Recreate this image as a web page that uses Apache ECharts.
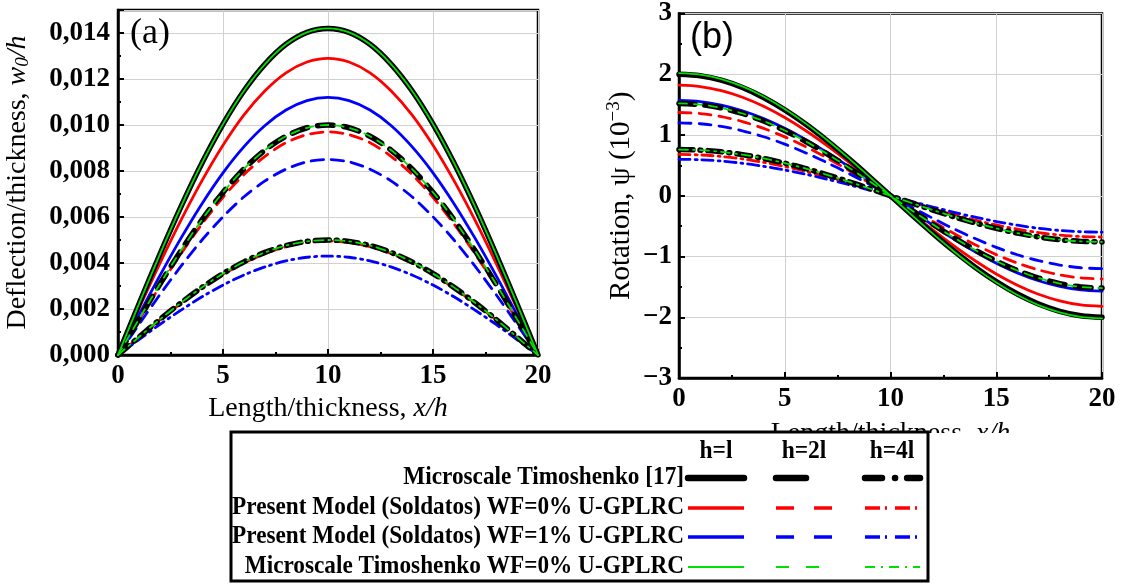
<!DOCTYPE html>
<html>
<head>
<meta charset="utf-8">
<script src="https://cdn.jsdelivr.net/npm/echarts@6/dist/echarts.min.js"></script>
<style>
html,body{margin:0;padding:0;background:#fff;}
#chart{width:1127px;height:584px;}
</style>
</head>
<body>
<div id="chart"></div>
<script>
// ---- data ----
var xs = [0,1,2,3,4,5,6,7,8,9,10,11,12,13,14,15,16,17,18,19,20];

// Panel (a): deflection/thickness w0/h
var deflMicroH1 = [0,0.00222,0.00439,0.00645,0.00835,0.01004,0.01149,0.01265,0.01351,0.01403,0.0142,0.01403,0.01351,0.01265,0.01149,0.01004,0.00835,0.00645,0.00439,0.00222,0];
var deflMicroH2 = [0,0.00156,0.00309,0.00454,0.00588,0.00707,0.00809,0.00891,0.00951,0.00988,0.0100,0.00988,0.00951,0.00891,0.00809,0.00707,0.00588,0.00454,0.00309,0.00156,0];
var deflMicroH4 = [0,0.00078,0.00155,0.00227,0.00294,0.00354,0.00405,0.00446,0.00476,0.00494,0.0050,0.00494,0.00476,0.00446,0.00405,0.00354,0.00294,0.00227,0.00155,0.00078,0];
var deflWF0H1 = [0,0.00202,0.00399,0.00586,0.00758,0.00912,0.01044,0.01149,0.01227,0.01274,0.0129,0.01274,0.01227,0.01149,0.01044,0.00912,0.00758,0.00586,0.00399,0.00202,0];
var deflWF0H2 = [0,0.00152,0.00300,0.00440,0.00570,0.00686,0.00785,0.00864,0.00923,0.00958,0.0097,0.00958,0.00923,0.00864,0.00785,0.00686,0.00570,0.00440,0.00300,0.00152,0];
var deflWF0H4 = [0,0.00077,0.00153,0.00225,0.00291,0.00350,0.00400,0.00441,0.00471,0.00489,0.00495,0.00489,0.00471,0.00441,0.00400,0.00350,0.00291,0.00225,0.00153,0.00077,0];
var deflWF1H1 = [0,0.00175,0.00346,0.00508,0.00658,0.00792,0.00906,0.00998,0.01065,0.01106,0.0112,0.01106,0.01065,0.00998,0.00906,0.00792,0.00658,0.00508,0.00346,0.00175,0];
var deflWF1H2 = [0,0.00133,0.00263,0.00386,0.00500,0.00601,0.00688,0.00757,0.00808,0.00840,0.0085,0.00840,0.00808,0.00757,0.00688,0.00601,0.00500,0.00386,0.00263,0.00133,0];
var deflWF1H4 = [0,0.00067,0.00133,0.00195,0.00253,0.00304,0.00348,0.00383,0.00409,0.00425,0.0043,0.00425,0.00409,0.00383,0.00348,0.00304,0.00253,0.00195,0.00133,0.00067,0];
var deflGreenH1 = [0,0.00222,0.00439,0.00645,0.00835,0.01004,0.01149,0.01265,0.01351,0.01403,0.0142,0.01403,0.01351,0.01265,0.01149,0.01004,0.00835,0.00645,0.00439,0.00222,0];
var deflGreenH2 = [0,0.00156,0.00309,0.00454,0.00588,0.00707,0.00809,0.00891,0.00951,0.00988,0.0100,0.00988,0.00951,0.00891,0.00809,0.00707,0.00588,0.00454,0.00309,0.00156,0];
var deflGreenH4 = [0,0.00078,0.00155,0.00227,0.00294,0.00354,0.00405,0.00446,0.00476,0.00494,0.0050,0.00494,0.00476,0.00446,0.00405,0.00354,0.00294,0.00227,0.00155,0.00078,0];

// Panel (b): rotation psi (1e-3)
var rotMicroH1 = [2.0,1.975,1.902,1.782,1.618,1.414,1.176,0.908,0.618,0.313,0,-0.313,-0.618,-0.908,-1.176,-1.414,-1.618,-1.782,-1.902,-1.975,-2.0];
var rotMicroH2 = [1.52,1.501,1.446,1.354,1.230,1.075,0.893,0.690,0.470,0.238,0,-0.238,-0.470,-0.690,-0.893,-1.075,-1.230,-1.354,-1.446,-1.501,-1.52];
var rotMicroH4 = [0.76,0.751,0.723,0.677,0.615,0.537,0.447,0.345,0.235,0.119,0,-0.119,-0.235,-0.345,-0.447,-0.537,-0.615,-0.677,-0.723,-0.751,-0.76];
var rotWF0H1 = [1.82,1.798,1.731,1.622,1.472,1.287,1.070,0.826,0.562,0.285,0,-0.285,-0.562,-0.826,-1.070,-1.287,-1.472,-1.622,-1.731,-1.798,-1.82];
var rotWF0H2 = [1.37,1.353,1.303,1.221,1.108,0.969,0.805,0.622,0.423,0.214,0,-0.214,-0.423,-0.622,-0.805,-0.969,-1.108,-1.221,-1.303,-1.353,-1.37];
var rotWF0H4 = [0.68,0.672,0.647,0.606,0.550,0.481,0.400,0.309,0.210,0.106,0,-0.106,-0.210,-0.309,-0.400,-0.481,-0.550,-0.606,-0.647,-0.672,-0.68];
var rotWF1H1 = [1.57,1.551,1.493,1.399,1.270,1.110,0.923,0.713,0.485,0.246,0,-0.246,-0.485,-0.713,-0.923,-1.110,-1.270,-1.399,-1.493,-1.551,-1.57];
var rotWF1H2 = [1.2,1.185,1.141,1.069,0.971,0.849,0.705,0.545,0.371,0.188,0,-0.188,-0.371,-0.545,-0.705,-0.849,-0.971,-1.069,-1.141,-1.185,-1.2];
var rotWF1H4 = [0.6,0.593,0.571,0.535,0.485,0.424,0.353,0.272,0.185,0.094,0,-0.094,-0.185,-0.272,-0.353,-0.424,-0.485,-0.535,-0.571,-0.593,-0.6];
var rotGreenH1 = [2.02,1.995,1.921,1.800,1.634,1.428,1.187,0.917,0.624,0.316,0,-0.316,-0.624,-0.917,-1.187,-1.428,-1.634,-1.800,-1.921,-1.995,-2.02];
var rotGreenH2 = [1.52,1.501,1.446,1.354,1.230,1.075,0.893,0.690,0.470,0.238,0,-0.238,-0.470,-0.690,-0.893,-1.075,-1.230,-1.354,-1.446,-1.501,-1.52];
var rotGreenH4 = [0.76,0.751,0.723,0.677,0.615,0.537,0.447,0.345,0.235,0.119,0,-0.119,-0.235,-0.345,-0.447,-0.537,-0.615,-0.677,-0.723,-0.751,-0.76];

var xTicks = [0,5,10,15,20];
var legendRows = ['Microscale Timoshenko [17]','Present Model (Soldatos) WF=0% U-GPLRC','Present Model (Soldatos) WF=1% U-GPLRC','Microscale Timoshenko WF=0% U-GPLRC'];
var legendCols = ['h=l','h=2l','h=4l'];

// ---- styles ----
var SERIF = '"Liberation Serif","Times New Roman",serif';
var styles = {
  red:   {color:'#ff0000', width:2.8, dash:{h1:'solid', h2:[12,8], h4:[11,5,2,5]}},
  blue:  {color:'#0000ff', width:2.8, dash:{h1:'solid', h2:[12,8], h4:[11,5,2,5]}},
  black: {color:'#000000', width:5.5, dash:{h1:'solid', h2:[16,10], h4:[14,7,1,7]}},
  green: {color:'#00e000', width:1.8, dash:{h1:'solid', h2:[8,7], h4:[9,5,2,5]}}
};

function pairs(ys){ return xs.map(function(x,i){return [x, ys[i]];}); }
function mk(name, ys, key, h, gi){
  var s = styles[key];
  return {
    name: name, type:'line', xAxisIndex: gi, yAxisIndex: gi,
    data: pairs(ys), showSymbol:false, smooth:0.3, silent:true,
    lineStyle:{color:s.color, width:s.width, type:s.dash[h], cap:'round', join:'round'},
    z: key==='green'?5:(key==='black'?4:3)
  };
}

var seriesList = [
  mk('a-red-h1',deflWF0H1,'red','h1',0), mk('a-red-h2',deflWF0H2,'red','h2',0), mk('a-red-h4',deflWF0H4,'red','h4',0),
  mk('a-blue-h1',deflWF1H1,'blue','h1',0), mk('a-blue-h2',deflWF1H2,'blue','h2',0), mk('a-blue-h4',deflWF1H4,'blue','h4',0),
  mk('a-black-h1',deflMicroH1,'black','h1',0), mk('a-black-h2',deflMicroH2,'black','h2',0), mk('a-black-h4',deflMicroH4,'black','h4',0),
  mk('a-green-h1',deflGreenH1,'green','h1',0), mk('a-green-h2',deflGreenH2,'green','h2',0), mk('a-green-h4',deflGreenH4,'green','h4',0),
  mk('b-red-h1',rotWF0H1,'red','h1',1), mk('b-red-h2',rotWF0H2,'red','h2',1), mk('b-red-h4',rotWF0H4,'red','h4',1),
  mk('b-blue-h1',rotWF1H1,'blue','h1',1), mk('b-blue-h2',rotWF1H2,'blue','h2',1), mk('b-blue-h4',rotWF1H4,'blue','h4',1),
  mk('b-black-h1',rotMicroH1,'black','h1',1), mk('b-black-h2',rotMicroH2,'black','h2',1), mk('b-black-h4',rotMicroH4,'black','h4',1),
  mk('b-green-h1',rotGreenH1,'green','h1',1), mk('b-green-h2',rotGreenH2,'green','h2',1), mk('b-green-h4',rotGreenH4,'green','h4',1)
];

function xAxisCfg(gi, nameGap){
  return {
    gridIndex: gi, type:'value', min:0, max:20, interval:5,
    name:'Length/thickness, {i|x/h}', nameLocation:'middle', nameGap:nameGap,
    nameTextStyle:{fontFamily:SERIF, fontSize:28, color:'#000', rich:{i:{fontFamily:SERIF, fontSize:28, fontStyle:'italic', color:'#000'}}},
    axisLine:{show:true, onZero:false, lineStyle:{color:'#000', width:2.5}},
    axisTick:{show:true, inside:true, length:6, lineStyle:{color:'#000', width:2}},
    minorTick:{show:true, splitNumber:2, length:3, lineStyle:{color:'#000', width:2}},
    axisLabel:{fontFamily:SERIF, fontWeight:'bold', fontSize:27, color:'#000', margin:8},
    splitLine:{show:true, lineStyle:{color:'#d0d0d0', width:1}}
  };
}

var option = {
  animation:false,
  backgroundColor:'#fff',
  grid:[
    {left:118, top:10, width:420, height:345, show:true, borderColor:'#000', borderWidth:2.5, backgroundColor:'transparent'},
    {left:679, top:13, width:423, height:365, show:true, borderColor:'#000', borderWidth:2.5, backgroundColor:'transparent'}
  ],
  xAxis:[ xAxisCfg(0, 36), xAxisCfg(1, 42) ],
  yAxis:[
    {
      gridIndex:0, type:'value', min:0, max:0.015, interval:0.002,
      name:'Deflection/thickness, {i|w}{s|0}{i|/h}', nameLocation:'middle', nameGap:86,
      nameTextStyle:{fontFamily:SERIF, fontSize:28, color:'#000', rich:{
        i:{fontFamily:SERIF, fontSize:28, fontStyle:'italic', color:'#000'},
        s:{fontFamily:SERIF, fontSize:19, fontStyle:'italic', color:'#000', padding:[10,0,0,0]}}},
      axisLine:{show:true, onZero:false, lineStyle:{color:'#000', width:2.5}},
      axisTick:{show:true, inside:true, length:6, lineStyle:{color:'#000', width:2}},
      minorTick:{show:true, splitNumber:2, length:3, lineStyle:{color:'#000', width:2}},
      axisLabel:{fontFamily:SERIF, fontWeight:'bold', fontSize:27, color:'#000', margin:8,
        formatter:function(v){ return v > 0.0145 ? '' : v.toFixed(3).replace('.', ','); }},
      splitLine:{show:true, lineStyle:{color:'#d0d0d0', width:1}}
    },
    {
      gridIndex:1, type:'value', min:-3, max:3, interval:1,
      name:'Rotation, \u03c8 (10{sup|\u22123})', nameLocation:'middle', nameGap:42,
      nameTextStyle:{fontFamily:SERIF, fontSize:29, color:'#000', rich:{
        sup:{fontFamily:SERIF, fontSize:19, color:'#000', padding:[0,0,13,0]}}},
      axisLine:{show:true, onZero:false, lineStyle:{color:'#000', width:2.5}},
      axisTick:{show:true, inside:true, length:6, lineStyle:{color:'#000', width:2}},
      minorTick:{show:true, splitNumber:2, length:3, lineStyle:{color:'#000', width:2}},
      axisLabel:{fontFamily:SERIF, fontWeight:'bold', fontSize:27, color:'#000', margin:7,
        formatter:function(v){ return v < 0 ? '\u2212' + Math.abs(v) : String(v); }},
      splitLine:{show:true, lineStyle:{color:'#d0d0d0', width:1}}
    }
  ],
  series: seriesList,
  graphic: []
};

// panel labels
option.graphic.push({type:'text', z:50, left:130, top:16, style:{text:'(a)', font:'36px ' + SERIF, fill:'#000'}});
option.graphic.push({type:'text', z:50, left:690, top:20, style:{text:'(b)', font:'36px "Liberation Sans",Arial,sans-serif', fill:'#000'}});

// white strip under the figure (the original is cropped there)
option.graphic.push({type:'rect', z:99, shape:{x:0, y:433, width:1127, height:151}, style:{fill:'#fff'}});

// legend box
var LX = 231, LY = 432, LW = 697, LH = 149;
option.graphic.push({type:'rect', z:100, shape:{x:LX, y:LY, width:LW, height:LH}, style:{fill:'#fff', stroke:'#000', lineWidth:3}});
var colX = [716, 804, 892];
var rowY = [478, 508, 537, 567];
legendCols.forEach(function(t, i){
  option.graphic.push({type:'text', z:101, x:colX[i], y:452, scaleX:0.94, style:{text:t, font:'bold 25px ' + SERIF, fill:'#000', align:'center', verticalAlign:'middle'}});
});
legendRows.forEach(function(t, i){
  option.graphic.push({type:'text', z:101, x:684, y:rowY[i], scaleX:0.93, style:{text:t, font:'bold 25px ' + SERIF, fill:'#000', align:'right', verticalAlign:'middle'}});
});
var legKeys = ['black','red','blue','green'];
var sampleDash = {
  black:{h1:null, h2:[30,100], h4:[17,13,0.1,12,17]},
  red:{h1:null, h2:[18,20], h4:[15,5,2,8]},
  blue:{h1:null, h2:[18,20], h4:[15,5,2,8]},
  green:{h1:null, h2:[13,17], h4:[10,6,2,6]}
};
var sampleWidth = {black:6.5, red:3.5, blue:3.5, green:2};
var segs = [[688,744],[776,833],[865,920]];
legKeys.forEach(function(k, r){
  ['h1','h2','h4'].forEach(function(h, c){
    option.graphic.push({type:'line', z:101,
      shape:{x1:segs[c][0], y1:rowY[r], x2:segs[c][1], y2:rowY[r]},
      style:{stroke:styles[k].color, lineWidth:sampleWidth[k], lineDash:sampleDash[k][h], lineCap:(k==='black'?'round':'butt')}});
  });
});

var chart = echarts.init(document.getElementById('chart'), null, {renderer:'canvas'});
chart.setOption(option);
</script>
</body>
</html>
